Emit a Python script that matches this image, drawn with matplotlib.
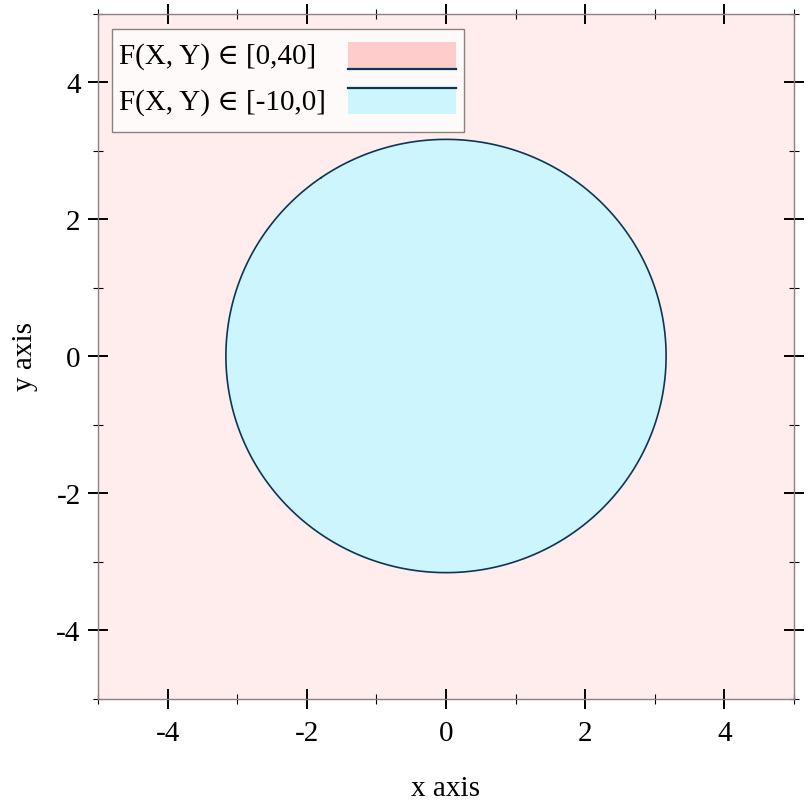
import numpy as np
import matplotlib
matplotlib.use("Agg")
import matplotlib.pyplot as plt
from matplotlib.patches import Rectangle
from matplotlib.lines import Line2D

plt.rcParams['font.family'] = ['Liberation Serif', 'DejaVu Serif']
plt.rcParams['axes.unicode_minus'] = False

# data
x_range = [-5, 5]
y_range = [-5, 5]
levels = [-10, 0, 40]
legend_labels = ["F(X, Y) \u2208 [0,40]", "F(X, Y) \u2208 [-10,0]"]
x_ticks = [-4, -2, 0, 2, 4]
y_ticks = [-4, -2, 0, 2, 4]
x_minor = [-5, -3, -1, 1, 3, 5]
y_minor = [-5, -3, -1, 1, 3, 5]

area_colors = ['#ccf5fe', '#ffeded']
swatch_colors = ['#ffcccc', '#ccf5fe']
line_color = '#0b3655'

fig = plt.figure(figsize=(8.12, 8.12), dpi=100)
L, R, T, B = 98, 794, 14.5, 699.5
ax = fig.add_axes([L/812, 1-B/812, (R-L)/812, (B-T)/812])

xs = np.linspace(x_range[0], x_range[1], 801)
ys = np.linspace(y_range[0], y_range[1], 801)
X, Y = np.meshgrid(xs, ys)
F = X**2 + Y**2 - 10

ax.contourf(X, Y, F, levels=levels, colors=area_colors)
ax.contour(X, Y, F, levels=[0], colors=[line_color], linewidths=1.2)

ax.set_xlim(x_range)
ax.set_ylim(y_range)

ax.set_xticks(x_ticks)
ax.set_yticks(y_ticks)
ax.set_xticks(x_minor, minor=True)
ax.set_yticks(y_minor, minor=True)
ax.tick_params(which='major', direction='inout', length=15, width=1.4, colors='black',
               top=True, right=True, labelsize=21, pad=5)
ax.tick_params(axis='x', which='major', pad=8)
ax.tick_params(which='minor', direction='inout', length=7.5, width=0.8, colors='black',
               top=True, right=True)
for s in ax.spines.values():
    s.set_color('#8c8080')
    s.set_linewidth(1.0)

ax.set_xlabel('x axis', fontsize=21, labelpad=21)
ax.set_ylabel('y axis', fontsize=21, labelpad=13)


def ax_xy(px, py):
    return (px - L) / (R - L), (B - py) / (B - T)


def ax_rect(x0, y0, x1, y1, **kw):
    ax0, ay1 = ax_xy(x0, y0)
    ax1, ay0 = ax_xy(x1, y1)
    return Rectangle((ax0, ay0), ax1 - ax0, ay1 - ay0, transform=ax.transAxes, **kw)


# legend (drawn in axes coordinates)
ax.add_patch(ax_rect(112, 30, 464, 133, facecolor='#fffafa', edgecolor='#8c8080',
                     linewidth=1.0, zorder=5))
ax.add_patch(ax_rect(348, 43, 456, 70, facecolor=swatch_colors[0], edgecolor='none', zorder=6))
ax.add_patch(ax_rect(348, 89, 456, 115, facecolor=swatch_colors[1], edgecolor='none', zorder=6))
for py in (70, 89):
    xa, ya = ax_xy(348, py)
    xb, _ = ax_xy(456, py)
    ax.add_line(Line2D([xa, xb], [ya, ya], color=line_color, lw=1.6,
                       transform=ax.transAxes, zorder=7))
for lab, py in zip(legend_labels, (57, 103)):
    tx, ty = ax_xy(119, py)
    ax.text(tx, ty, lab, transform=ax.transAxes, fontsize=21, ha='left', va='center', zorder=8)

fig.savefig('out.png', dpi=100)
